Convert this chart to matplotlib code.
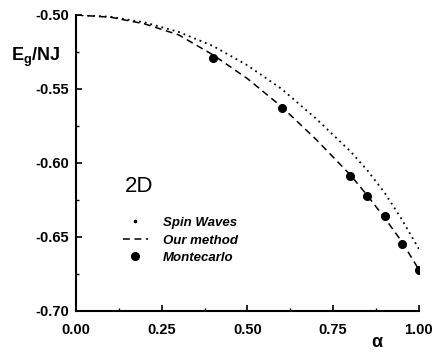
import matplotlib
matplotlib.use("Agg")
import matplotlib.pyplot as plt
from matplotlib.lines import Line2D
from matplotlib.ticker import MultipleLocator, FormatStrFormatter

plt.rcParams['font.family'] = ['Liberation Sans', 'DejaVu Sans']
plt.rcParams['mathtext.fontset'] = 'custom'
plt.rcParams['mathtext.bf'] = 'Liberation Sans:bold'
plt.rcParams['mathtext.rm'] = 'Liberation Sans:bold'

# Ground-state energy per bond vs anisotropy alpha
alpha_curve = [0.0, 0.1, 0.2, 0.3, 0.4, 0.5, 0.6, 0.7, 0.8, 0.85, 0.9, 0.95, 1.0]
spin_waves = [-0.500, -0.5012, -0.505, -0.5115, -0.521, -0.534, -0.550,
              -0.570, -0.592, -0.605, -0.620, -0.638, -0.658]
our_method = [-0.500, -0.5015, -0.506, -0.5135, -0.527, -0.543, -0.562,
              -0.584, -0.608, -0.622, -0.637, -0.653, -0.672]

alpha_mc = [0.4, 0.6, 0.8, 0.85, 0.9, 0.95, 1.0]
montecarlo = [-0.529, -0.563, -0.609, -0.622, -0.636, -0.655, -0.672]

fig = plt.figure(figsize=(4.34, 3.52), dpi=100)
ax = fig.add_axes([0.175, 0.1165, 0.790, 0.841])

ax.plot(alpha_curve, spin_waves, color='black', linestyle=(0, (1, 2.2)),
        linewidth=1.3)
line_ours, = ax.plot(alpha_curve, our_method, color='black',
                     linestyle=(0, (4.5, 3)), linewidth=1.1)
line_mc, = ax.plot(alpha_mc, montecarlo, linestyle='none', marker='o',
                   markersize=5.5, color='black')

ax.set_xlim(0.0, 1.0)
ax.set_ylim(-0.70, -0.50)
ax.xaxis.set_major_locator(MultipleLocator(0.25))
ax.xaxis.set_minor_locator(MultipleLocator(0.125))
ax.yaxis.set_major_locator(MultipleLocator(0.05))
ax.yaxis.set_minor_locator(MultipleLocator(0.025))
ax.xaxis.set_major_formatter(FormatStrFormatter('%.2f'))
ax.yaxis.set_major_formatter(FormatStrFormatter('%.2f'))

for s in ('top', 'right'):
    ax.spines[s].set_visible(False)
for s in ('left', 'bottom'):
    ax.spines[s].set_linewidth(1.5)

ax.tick_params(axis='both', which='major', direction='in', length=4, width=1.2,
               labelsize=10.5)
ax.tick_params(axis='both', which='minor', direction='in', length=2.5, width=1.0)
ax.tick_params(axis='x', which='major', pad=9)
ax.tick_params(axis='y', which='major', pad=5)
for lbl in ax.get_xticklabels() + ax.get_yticklabels():
    lbl.set_fontweight('bold')

ax.text(-0.045, -0.529, r'$\mathbf{E_g/NJ}$', fontsize=13,
        ha='right', va='center', clip_on=False)
ax.text(0.878, -0.7155, 'α', fontsize=13, fontweight='bold',
        ha='center', va='top', clip_on=False)
ax.text(0.184, 0.419, '2D', fontsize=16, ha='center', va='center',
        transform=ax.transAxes)

# the spin-wave key shows a single dot
spin_key = Line2D([], [], linestyle='none', marker='o', markersize=1.6,
                  color='black')
ax.legend([spin_key, line_ours, line_mc],
          ['Spin Waves', 'Our method', 'Montecarlo'],
          loc='upper left', bbox_to_anchor=(0.137, 0.318), frameon=False,
          prop={'size': 9.5, 'weight': 'bold', 'style': 'italic'},
          handlelength=1.9, handletextpad=1.1, labelspacing=0.4,
          borderpad=0, borderaxespad=0)

fig.savefig('out.png', dpi=100)
